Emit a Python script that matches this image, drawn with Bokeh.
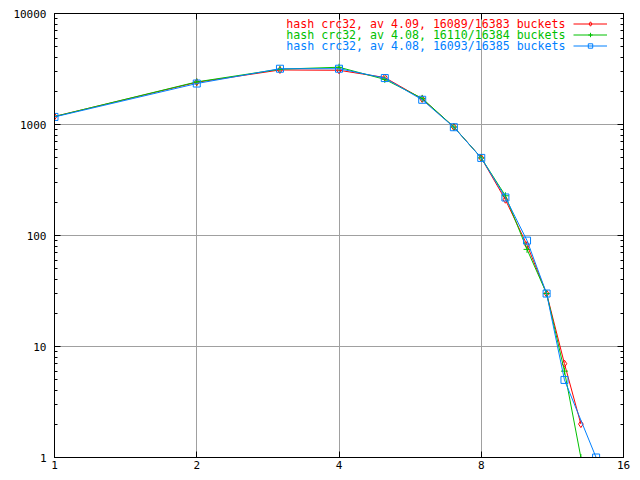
from bokeh.plotting import figure
from bokeh.models import (FixedTicker, LogAxis, Label, Legend, LegendItem,
                          BasicTickFormatter, CustomLabelingPolicy)
from bokeh.embed import file_html
from bokeh.resources import INLINE

# chain length (x) vs number of buckets (y)
x_red = [1, 2, 3, 4, 5, 6, 7, 8, 9, 10, 11, 12, 13]
y_red = [1180, 2400, 3100, 3080, 2650, 1700, 950, 500, 210, 82, 30, 7, 2]
x_green = [1, 2, 3, 4, 5, 6, 7, 8, 9, 10, 11, 12, 13]
y_green = [1180, 2420, 3150, 3280, 2550, 1720, 950, 500, 228, 75, 30, 6, 1]
x_blue = [1, 2, 3, 4, 5, 6, 7, 8, 9, 10, 11, 12, 14]
y_blue = [1170, 2340, 3180, 3180, 2620, 1670, 945, 500, 220, 90, 30, 5, 1]

labels = ["hash crc32, av 4.09, 16089/16383 buckets",
          "hash crc32, av 4.08, 16110/16384 buckets",
          "hash crc32, av 4.08, 16093/16385 buckets"]
colors = ["#ff0000", "#00c000", "#0080ff"]

x_ticks = [1, 2, 4, 8, 16]
y_ticks = [1, 10, 100, 1000, 10000]
y_minor = [k * 10 ** d for d in range(4) for k in range(2, 10)]

FONT = "DejaVu Sans Mono"

p = figure(x_axis_type="log", y_axis_type="log", x_range=(1, 16), y_range=(1, 10000),
           frame_width=569, frame_height=444, output_backend="svg", toolbar_location=None,
           min_border_left=54, min_border_right=9, min_border_top=13, min_border_bottom=15)
p.outline_line_color = "black"
p.outline_line_alpha = 1
p.background_fill_color = "white"
p.border_fill_color = "white"

hide_labels = CustomLabelingPolicy(code="for (const i of indices) { indices.unset(i) }\nreturn indices")


def style_axis(ax, ticks, minor, show_labels):
    ax.ticker = FixedTicker(ticks=ticks, minor_ticks=minor)
    ax.formatter = BasicTickFormatter()
    ax.axis_line_color = "black"
    ax.major_tick_line_color = "black"
    ax.minor_tick_line_color = "black"
    ax.major_tick_in = 6
    ax.major_tick_out = 0
    ax.minor_tick_in = 3
    ax.minor_tick_out = 0
    ax.major_label_text_font = FONT
    ax.major_label_text_color = "black"
    ax.major_label_text_font_size = "11px"
    if not show_labels:
        ax.major_label_policy = hide_labels
        ax.major_label_standoff = 0


style_axis(p.xaxis[0], x_ticks, [], True)
p.xaxis[0].major_label_standoff = 3
style_axis(p.yaxis[0], y_ticks, y_minor, True)
p.yaxis[0].major_label_standoff = 8

top = LogAxis()
style_axis(top, x_ticks, [], False)
p.add_layout(top, "above")
right = LogAxis()
style_axis(right, y_ticks, y_minor, False)
p.add_layout(right, "right")

p.xgrid.ticker = FixedTicker(ticks=[2, 4, 8])
p.ygrid.ticker = FixedTicker(ticks=[10, 100, 1000])
for g in (p.xgrid, p.ygrid):
    g.grid_line_color = "#a0a0a0"
    g.grid_line_width = 1

series = [(x_red, y_red, "diamond"), (x_green, y_green, "cross"), (x_blue, y_blue, "square")]
items = []
for (xs, ys, mk), col, lab in zip(series, colors, labels):
    lr = p.line(xs, ys, line_color=col, line_width=1)
    sr = p.scatter(xs, ys, marker=mk, size=7, line_color=col, fill_color=None, line_width=1)
    items.append(LegendItem(label=" ", renderers=[lr, sr]))

legend = Legend(items=items, location=(519, 406), label_text_font_size="11px",
                label_width=0, label_standoff=0, glyph_width=34, glyph_height=11,
                label_height=11, spacing=0, padding=0, margin=0,
                border_line_alpha=0, background_fill_alpha=0)
p.add_layout(legend)

for i, (lab, col) in enumerate(zip(labels, colors)):
    p.add_layout(Label(x=511, y=433.7 - 11 * i, x_units="screen", y_units="screen",
                       text=lab, text_align="right", text_baseline="middle",
                       text_font=FONT, text_font_size="11.6px", text_color=col))

open("out.html", "w").write(file_html(p, INLINE))
